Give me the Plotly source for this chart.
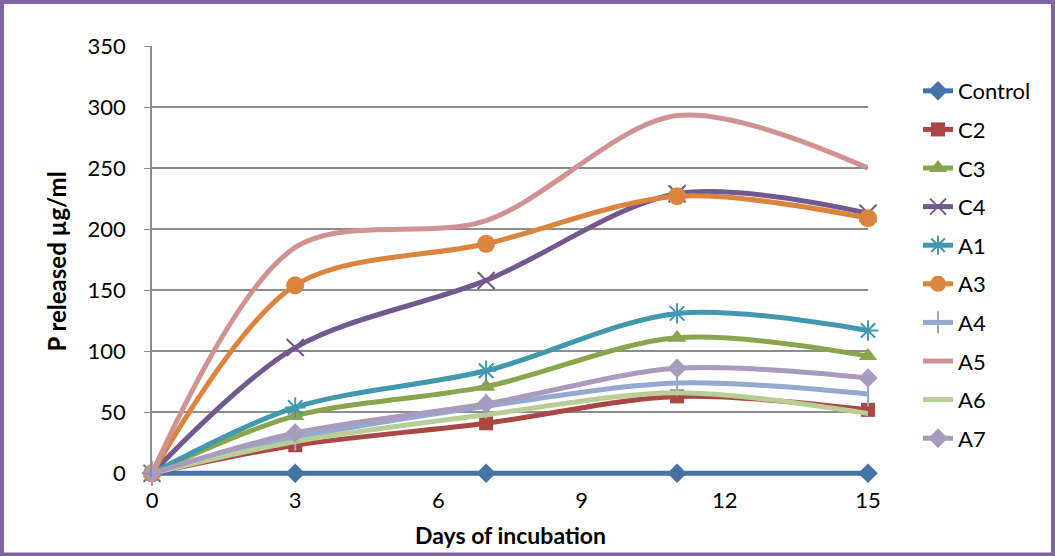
import plotly.graph_objects as go

days = [0, 3, 7, 11, 15]
series_names = ["Control", "C2", "C3", "C4", "A1", "A3", "A4", "A5", "A6", "A7"]
control = [0, 0, 0, 0, 0]
c2 = [0, 23, 41, 63, 52]
c3 = [0, 47, 71, 111, 96]
c4 = [0, 103, 158, 229, 213]
a1 = [0, 54, 84, 131, 117]
a3 = [0, 154, 188, 227, 209]
a4 = [0, 29, 55, 74, 65]
a5 = [0, 185, 207, 293, 250]
a6 = [0, 26, 48, 66, 49]
a7 = [0, 33, 57, 86, 78]
x_ticks = [0, 3, 6, 9, 12, 15]
y_ticks = [0, 50, 100, 150, 200, 250, 300, 350]
x_title = "Days of incubation"
y_title = "P released µg/ml"

values = [control, c2, c3, c4, a1, a3, a4, a5, a6, a7]
colors = ["#4572A7", "#AA4643", "#89A54E", "#71588F", "#4198AF",
          "#DB843D", "#93A9CF", "#D19392", "#B9CD96", "#A99BBD"]
symbols = ["diamond", "square", "triangle-up", "x-thin", "asterisk",
           "circle", "line-ns", None, None, "diamond"]
sizes = [15, 14, 16, 17, 17, 18, 18, 0, 0, 15]

fig = go.Figure()
for name, vals, col, sym, sz in zip(series_names, values, colors, symbols, sizes):
    if sym is None:
        mode = "lines"
        marker = None
    else:
        mode = "lines+markers"
        if sym in ("x-thin", "asterisk", "line-ns"):
            marker = dict(symbol=sym, size=sz, color=col,
                          line=dict(color=col, width=2))
        else:
            marker = dict(symbol=sym, size=sz, color=col, line=dict(width=0))
    fig.add_trace(go.Scatter(
        x=days, y=vals, name=name, mode=mode, cliponaxis=False,
        line=dict(color=col, width=5, shape="spline", smoothing=0.9),
        marker=marker, legendgroup=name,
    ))

W, H = 1055, 556
Y_MIN, Y_MAX = -3, 350
L, R, T = 152, 868, 46
ZERO_Y = 473
PX_PER_UNIT = (ZERO_Y - T) / Y_MAX
B = T + (Y_MAX - Y_MIN) * PX_PER_UNIT

def px(x):
    return (x - L) / (R - L)

def py(y):
    return (B - y) / (B - T)

fig.update_layout(
    width=W, height=H,
    margin=dict(l=L, r=W - R, t=T, b=H - B),
    paper_bgcolor="white", plot_bgcolor="white",
    font=dict(family="Lato, Open Sans, sans-serif", size=22, color="black"),
    showlegend=True,
    legend=dict(x=px(918), y=py(70), xanchor="left", yanchor="top",
                font=dict(size=22), tracegroupgap=7, traceorder="grouped",
                bgcolor="rgba(0,0,0,0)"),
    xaxis=dict(range=[0, 15], tickvals=x_ticks, showgrid=False,
               zeroline=False, showline=False, ticks="",
               ticklabelstandoff=8, tickfont=dict(size=22)),
    yaxis=dict(range=[Y_MIN, Y_MAX], tickvals=y_ticks, showgrid=True,
               gridcolor="#8c8c8c", gridwidth=1.5, zeroline=False,
               showline=True, linecolor="#8c8c8c", linewidth=1.5,
               ticks="outside", ticklen=6, tickcolor="#8c8c8c",
               ticklabelstandoff=14, tickfont=dict(size=22),
               title=dict(text="<b>" + y_title + "</b>", standoff=14,
                          font=dict(size=24))),
    annotations=[dict(text="<b>" + x_title + "</b>", xref="paper", yref="paper",
                      x=px(510), y=py(535), xanchor="center", yanchor="middle",
                      showarrow=False, font=dict(size=23))],
    shapes=[dict(type="rect", xref="paper", yref="paper",
                 x0=px(2), x1=px(1053), y0=py(554), y1=py(2),
                 line=dict(color="#8064A2", width=4), layer="above")],
)

fig.write_html("out.html", config={"displayModeBar": False},
               post_script="document.body.style.margin='0px';"
                           "document.body.style.overflow='hidden';")
